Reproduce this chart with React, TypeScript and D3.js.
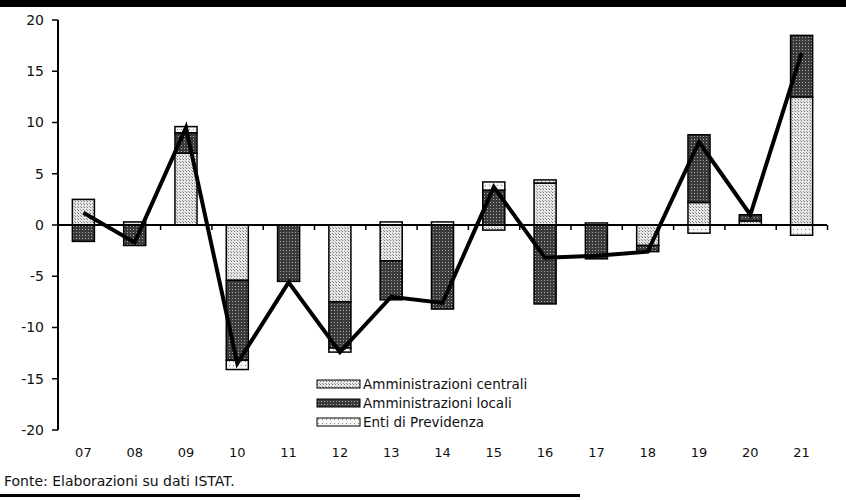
import React from 'react';
import * as d3 from 'd3';

// anni (etichette asse x)
const categories = ['07', '08', '09', '10', '11', '12', '13', '14', '15', '16', '17', '18', '19', '20', '21'];

// contributi per comparto
const centrali = [2.5, 0.3, 7.0, -5.4, 0, -7.5, -3.5, 0, -0.5, 4.1, 0, -2.0, 2.2, 0.4, 12.5];
const locali = [-1.6, -2.0, 2.0, -7.8, -5.5, -4.5, -3.8, -8.2, 3.4, -7.7, -3.3, -0.6, 6.6, 0.6, 6.0];
const previdenza = [0, 0, 0.6, -0.9, 0, -0.4, 0.3, 0.3, 0.8, 0.3, 0.2, 0, -0.8, 0, -1.0];

// totale (linea)
const totale = [1.2, -1.7, 9.5, -13.5, -5.6, -12.4, -7.0, -7.6, 3.7, -3.2, -3.0, -2.6, 8.1, 1.0, 16.8];

const yTicks = [20, 15, 10, 5, 0, -5, -10, -15, -20];

const seriesNames = ['Amministrazioni centrali', 'Amministrazioni locali', 'Enti di Previdenza'];
const keys = ['centrali', 'locali', 'previdenza'];
const fills = ['url(#patCentrali)', 'url(#patLocali)', 'url(#patPrev)'];

const W = 846;
const H = 500;
const font = '"DejaVu Sans", Verdana, sans-serif';

const App: React.FC = () => {
  const x = d3.scaleBand<string>().domain(categories).range([58, 827]).paddingInner(0.57).paddingOuter(0.28);
  const y = d3.scaleLinear().domain([-20, 20]).range([430, 20]);

  const rows = categories.map((c, i) => ({
    cat: c,
    centrali: centrali[i],
    locali: locali[i],
    previdenza: previdenza[i],
  }));
  const stacked = d3.stack<any>().keys(keys).offset(d3.stackOffsetDiverging)(rows);

  const line = d3
    .line<number>()
    .x((_, i) => (x(categories[i]) as number) + x.bandwidth() / 2)
    .y((d) => y(d));

  const step = x.step();
  const boundaries = d3.range(categories.length + 1).map((i) => 58 + i * step);

  return (
    <svg width={W} height={H} style={{ position: 'absolute', left: 0, top: 0, background: '#fff' }}>
      <defs>
        <pattern id="patCentrali" width="3" height="3" patternUnits="userSpaceOnUse">
          <rect width="3" height="3" fill="#e6e6e6" />
          <rect width="1" height="1" fill="#777" />
          <rect x="2" y="2" width="1" height="1" fill="#999" />
        </pattern>
        <pattern id="patLocali" width="3" height="3" patternUnits="userSpaceOnUse">
          <rect width="3" height="3" fill="#3a3a3a" />
          <rect x="1" y="1" width="1" height="1" fill="#aaa" />
        </pattern>
        <pattern id="patPrev" width="4" height="4" patternUnits="userSpaceOnUse">
          <rect width="4" height="4" fill="#f7f7f7" />
          <rect x="1" y="1" width="1" height="1" fill="#888" />
        </pattern>
      </defs>

      {/* bordi neri scansione */}
      <rect x={0} y={0} width={W} height={7} fill="#000" />
      <rect x={0} y={494} width={580} height={3} fill="#000" />

      {/* barre */}
      {stacked.map((s, si) => (
        <g key={s.key}>
          {s.map((d, i) => {
            const y0 = y(Math.max(d[0], d[1]));
            const y1 = y(Math.min(d[0], d[1]));
            if (y1 - y0 < 0.5) return null;
            return (
              <rect
                key={i}
                x={x(categories[i])}
                y={y0}
                width={x.bandwidth()}
                height={y1 - y0}
                fill={fills[si]}
                stroke="#000"
                strokeWidth={1.5}
              />
            );
          })}
        </g>
      ))}

      {/* asse y */}
      <line x1={58} x2={58} y1={y(20)} y2={y(-20)} stroke="#000" strokeWidth={2} />
      {yTicks.map((t) => (
        <g key={t}>
          <line x1={52} x2={58} y1={y(t)} y2={y(t)} stroke="#000" strokeWidth={1.5} />
          <text
            x={44}
            y={y(t)}
            dy="0.35em"
            textAnchor="end"
            fontFamily={font}
            fontSize={14}
            fill="#111"
          >
            {t}
          </text>
        </g>
      ))}

      {/* linea dello zero */}
      <line x1={58} x2={827} y1={y(0)} y2={y(0)} stroke="#000" strokeWidth={2} />
      {boundaries.map((b, i) => (
        <line key={i} x1={b} x2={b} y1={y(0)} y2={y(0) + 5} stroke="#000" strokeWidth={1.5} />
      ))}

      {/* totale */}
      <path d={line(totale) || ''} fill="none" stroke="#000" strokeWidth={4} strokeLinejoin="miter" />

      {/* etichette x */}
      {categories.map((c) => (
        <text
          key={c}
          x={(x(c) as number) + x.bandwidth() / 2}
          y={457}
          textAnchor="middle"
          fontFamily={font}
          fontSize={13}
          fill="#111"
        >
          {c}
        </text>
      ))}

      {/* legenda */}
      {seriesNames.map((n, i) => (
        <g key={n} transform={`translate(317,${384 + i * 19})`}>
          <rect x={0} y={-4} width={43} height={8} fill={fills[i]} stroke="#000" strokeWidth={1} />
          <text x={46} y={0} dy="0.35em" fontFamily={font} fontSize={13.5} fill="#111">
            {n}
          </text>
        </g>
      ))}

      {/* fonte */}
      <text x={4} y={486} fontFamily={font} fontSize={14} fill="#111">
        Fonte: Elaborazioni su dati ISTAT.
      </text>
    </svg>
  );
};

export default App;
